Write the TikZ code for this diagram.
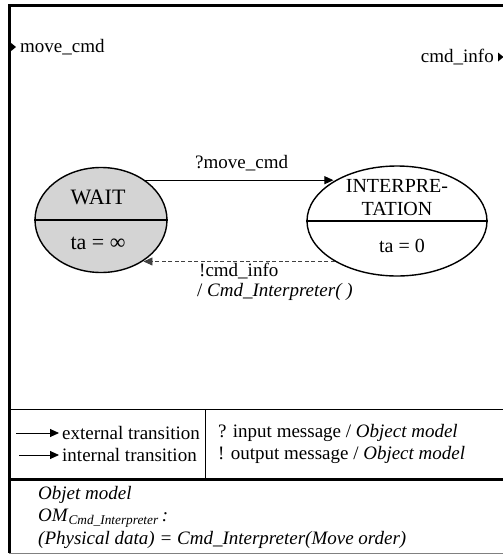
\documentclass[tikz,border=0pt]{standalone}
\usepackage{fontspec}
\setmainfont{Liberation Serif}
\usetikzlibrary{arrows.meta,shapes.geometric}
\begin{document}
\begin{tikzpicture}[x=1pt,y=-1pt,
  txt/.style={inner sep=0pt,font=\fontsize{19}{22.5}\selectfont},
  bigtxt/.style={inner sep=0pt,font=\fontsize{22}{24}\selectfont},
  state/.style={ellipse,draw,line width=1.4pt,inner sep=0pt},
  frame/.style={line width=3pt},
  tr/.style={line width=0.9pt,-{Triangle[length=9pt,width=8pt]}},
  port/.style={fill=black,draw=none}]
\useasboundingbox (0,0) rectangle (503,555);
% frame
\draw[frame] (9,553) -- (9,5) -- (505,5);
\draw[line width=0.6pt] (9,409) -- (505,409);
\draw[line width=0.8pt] (205,409) -- (205,479);
\draw[frame] (9,479) -- (505,479);
\draw[line width=0.6pt,black!50] (9,553) -- (505,553);
% ports
\fill[port] (10.5,42.5) -- (16,47) -- (10.5,51.5) -- cycle;
\fill[port] (498,52.5) -- (503.5,57) -- (498,61.5) -- cycle;
\node[txt,anchor=west] (inport) at (20,47) {move\_cmd};
\node[txt,anchor=east] (outport) at (494,57) {cmd\_info};
% states
\node[state,fill=black!17,minimum width=132pt,minimum height=105pt] (wait) at (101,220) {};
\draw[line width=1.2pt] (wait.west) -- (wait.east);
\node[bigtxt] (waitname) at (98,197) {WAIT};
\node[bigtxt] (waitta) at (98,243) {ta = ∞};
\node[state,minimum width=180pt,minimum height=110pt] (interp) at (397,221) {};
\draw[line width=1.2pt] (interp.west) -- (interp.east);
\node[txt,align=center,font=\fontsize{20}{23}\selectfont] (interpname) at (397,198) {INTERPRE-\\TATION};
\node[txt,font=\fontsize{20}{23}\selectfont] (interpta) at (402,246) {ta = 0};
% transitions
\draw[tr] (wait.42) -- (interp.148 |- wait.42);
\node[txt,anchor=west] (l1) at (195,163) {?move\_cmd};
\draw[tr,black!75,dashed,dash pattern=on 4pt off 2.5pt] (interp.213) -- (wait.-44 |- interp.213);
\node[txt,anchor=west] (l2) at (199,271) {!cmd\_info};
\node[txt,anchor=west] (l3) at (197,292) {/ \textit{Cmd\_Interpreter( )}};
% legend
\coordinate (e1) at (16,433);
\coordinate (e2) at (59,433);
\coordinate (i1) at (19,455);
\coordinate (i2) at (59,455);
\draw[tr] (e1) -- (e2);
\draw[tr] (i1) -- (i2);
\node[txt,anchor=west] (ext) at (62,433) {external transition};
\node[txt,anchor=west] (int) at (62,455) {internal transition};
\node[txt,anchor=west] (inmsg) at (218,433) {? input message / \textit{Object model}};
\node[txt,anchor=west] (outmsg) at (218,455) {! output message / \textit{Object model}};
% object model
\node[txt,anchor=west] (om1) at (38,495) {\textit{Objet model}};
\node[txt,anchor=west] (om2) at (38,518) {\textit{OM}\textsubscript{\textit{Cmd\_Interpreter}}\,\textit{:}};
\node[txt,anchor=west] (om3) at (38,540) {\textit{(Physical data) = Cmd\_Interpreter(Move order)}};
\end{tikzpicture}
\end{document}
